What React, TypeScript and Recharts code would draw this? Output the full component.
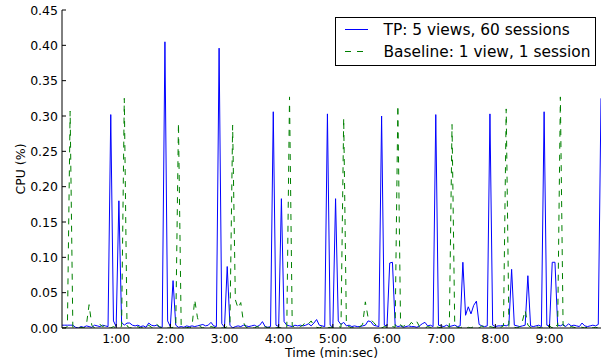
import React from 'react';
import { LineChart, Line, XAxis, YAxis } from 'recharts';

const STEP_SECONDS = 3;

const TP_VALUES = [
  0.004, 0.004, 0.004, 0.004, 0.004, 0.001, 0.000, 0.002, 0.001, 0.003,
  0.002, 0.001, 0.004, 0.003, 0.002, 0.004, 0.003, 0.002, 0.302, 0.010,
  0.002, 0.180, 0.008, 0.004, 0.007, 0.007, 0.004, 0.003, 0.004, 0.002,
  0.003, 0.001, 0.007, 0.004, 0.003, 0.004, 0.001, 0.001, 0.405, 0.010,
  0.002, 0.067, 0.004, 0.001, 0.002, 0.001, 0.003, 0.002, 0.003, 0.002,
  0.003, 0.004, 0.005, 0.003, 0.004, 0.008, 0.003, 0.002, 0.396, 0.006,
  0.001, 0.087, 0.004, 0.000, 0.002, 0.003, 0.002, 0.004, 0.003, 0.002,
  0.003, 0.004, 0.002, 0.004, 0.009, 0.002, 0.001, 0.002, 0.306, 0.004,
  0.002, 0.183, 0.009, 0.004, 0.003, 0.002, 0.004, 0.003, 0.004, 0.003,
  0.004, 0.006, 0.003, 0.007, 0.012, 0.004, 0.003, 0.002, 0.303, 0.004,
  0.001, 0.183, 0.010, 0.005, 0.008, 0.003, 0.004, 0.002, 0.003, 0.002,
  0.002, 0.003, 0.004, 0.010, 0.009, 0.004, 0.003, 0.002, 0.300, 0.004,
  0.003, 0.092, 0.093, 0.004, 0.002, 0.003, 0.001, 0.002, 0.003, 0.002,
  0.002, 0.001, 0.003, 0.006, 0.008, 0.003, 0.004, 0.002, 0.302, 0.004,
  0.003, 0.002, 0.004, 0.002, 0.003, 0.004, 0.002, 0.003, 0.093, 0.018,
  0.030, 0.020, 0.032, 0.038, 0.005, 0.003, 0.002, 0.003, 0.303, 0.004,
  0.002, 0.003, 0.003, 0.004, 0.003, 0.005, 0.083, 0.004, 0.003, 0.002,
  0.003, 0.004, 0.074, 0.003, 0.002, 0.003, 0.004, 0.002, 0.306, 0.004,
  0.003, 0.093, 0.093, 0.004, 0.003, 0.005, 0.002, 0.006, 0.003, 0.004,
  0.003, 0.002, 0.007, 0.003, 0.002, 0.003, 0.004, 0.003, 0.005, 0.325,
];

const BASELINE_VALUES = [
  0.000, 0.000, 0.002, 0.307, 0.001, 0.000, 0.000, 0.001, 0.000, 0.004,
  0.033, 0.004, 0.000, 0.001, 0.005, 0.002, 0.004, 0.001, 0.000, 0.002,
  0.000, 0.001, 0.002, 0.325, 0.003, 0.000, 0.001, 0.000, 0.002, 0.000,
  0.001, 0.000, 0.004, 0.001, 0.000, 0.005, 0.002, 0.000, 0.001, 0.000,
  0.000, 0.001, 0.002, 0.290, 0.003, 0.000, 0.001, 0.000, 0.002, 0.040,
  0.015, 0.002, 0.000, 0.001, 0.000, 0.002, 0.001, 0.000, 0.001, 0.000,
  0.000, 0.002, 0.004, 0.287, 0.040, 0.028, 0.036, 0.008, 0.001, 0.000,
  0.001, 0.000, 0.002, 0.001, 0.000, 0.002, 0.000, 0.001, 0.002, 0.000,
  0.001, 0.000, 0.003, 0.001, 0.327, 0.003, 0.001, 0.000, 0.002, 0.004,
  0.009, 0.006, 0.010, 0.003, 0.001, 0.000, 0.002, 0.001, 0.000, 0.001,
  0.001, 0.000, 0.002, 0.001, 0.297, 0.004, 0.002, 0.000, 0.001, 0.000,
  0.002, 0.005, 0.037, 0.015, 0.012, 0.008, 0.004, 0.001, 0.000, 0.002,
  0.001, 0.000, 0.002, 0.001, 0.315, 0.004, 0.002, 0.006, 0.003, 0.008,
  0.004, 0.009, 0.002, 0.001, 0.000, 0.002, 0.001, 0.000, 0.002, 0.001,
  0.000, 0.002, 0.004, 0.001, 0.288, 0.003, 0.001, 0.000, 0.002, 0.000,
  0.001, 0.000, 0.002, 0.001, 0.000, 0.003, 0.001, 0.000, 0.002, 0.001,
  0.000, 0.002, 0.001, 0.003, 0.310, 0.002, 0.000, 0.001, 0.000, 0.002,
  0.010, 0.025, 0.004, 0.001, 0.000, 0.002, 0.001, 0.000, 0.002, 0.001,
  0.003, 0.000, 0.006, 0.002, 0.327, 0.004, 0.001, 0.000, 0.002, 0.001,
  0.000, 0.002, 0.001, 0.000, 0.001, 0.003, 0.000, 0.001, 0.000, 0.002,
];

const X_TICKS = [60, 120, 180, 240, 300, 360, 420, 480, 540];
const Y_TICKS = [0, 0.05, 0.1, 0.15, 0.2, 0.25, 0.3, 0.35, 0.4, 0.45];
const X_DOMAIN_END = 597;
const SERIES_NAMES = ['TP: 5 views, 60 sessions', 'Baseline: 1 view, 1 session'];
const X_LABEL = 'Time (min:sec)';
const Y_LABEL = 'CPU (%)';

const data = TP_VALUES.map((v, i) => ({
  t: i * STEP_SECONDS,
  tp: v,
  base: BASELINE_VALUES[i],
}));

const FONT = '"DejaVu Sans", "Bitstream Vera Sans", sans-serif';
const BLUE = '#0000ff';
const GREEN = '#008000';

const fmtTime = (s: number) => `${Math.floor(s / 60)}:${String(Math.round(s % 60)).padStart(2, '0')}`;

const LeftTick = (props: any) => {
  const { x, y, payload } = props;
  return (
    <g>
      <line x1={x} x2={x + 4} y1={y} y2={y} stroke="#000" strokeWidth={1} />
      <text x={x - 4} y={y} dy={4.5} textAnchor="end" fontSize={12.5} fontFamily={FONT} fill="#000">
        {Number(payload.value).toFixed(2)}
      </text>
    </g>
  );
};

const RightTick = (props: any) => {
  const { x, y } = props;
  return <line x1={x} x2={x - 4} y1={y} y2={y} stroke="#000" strokeWidth={1} />;
};

const BottomTick = (props: any) => {
  const { x, y, payload } = props;
  return (
    <g>
      <line x1={x} x2={x} y1={y} y2={y - 4} stroke="#000" strokeWidth={1} />
      <text x={x} y={y} dy={15} textAnchor="middle" fontSize={12.5} fontFamily={FONT} fill="#000">
        {fmtTime(Number(payload.value))}
      </text>
    </g>
  );
};

const TopTick = (props: any) => {
  const { x, y } = props;
  return <line x1={x} x2={x} y1={y} y2={y + 4} stroke="#000" strokeWidth={1} />;
};

const YLabel = () => (
  <text
    x={24.5}
    y={169}
    transform="rotate(-90, 24.5, 169)"
    textAnchor="middle"
    fontSize={12.5}
    fontFamily={FONT}
    fill="#000"
  >
    {Y_LABEL}
  </text>
);

const XLabel = () => (
  <text x={331.5} y={357} textAnchor="middle" fontSize={12.5} fontFamily={FONT} fill="#000">
    {X_LABEL}
  </text>
);

const LegendBox = () => (
  <svg
    width={262}
    height={50}
    style={{ position: 'absolute', left: 335, top: 17, overflow: 'visible' }}
  >
    <rect x={0.5} y={0.5} width={260} height={48} fill="#fff" stroke="#000" strokeWidth={1} />
    <line x1={10} x2={33} y1={12.5} y2={12.5} stroke={BLUE} strokeWidth={1} />
    <text x={48.5} y={18} fontSize={15.4} fontFamily={FONT} fill="#000">
      {SERIES_NAMES[0]}
    </text>
    <line x1={10} x2={33} y1={34.5} y2={34.5} stroke={GREEN} strokeWidth={1} strokeDasharray="6 6" />
    <text x={48.5} y={40} fontSize={15.4} fontFamily={FONT} fill="#000">
      {SERIES_NAMES[1]}
    </text>
  </svg>
);

export default function App() {
  return (
    <div style={{ position: 'absolute', left: 0, top: 0, width: 603, height: 362, background: '#fff' }}>
      <LineChart
        width={603}
        height={362}
        data={data}
        margin={{ top: 10, right: 2, bottom: 0, left: 0 }}
      >
        <XAxis
          dataKey="t"
          type="number"
          domain={[0, X_DOMAIN_END]}
          ticks={X_TICKS}
          allowDataOverflow
          height={34}
          tickSize={0}
          tickMargin={0}
          tickLine={false}
          axisLine={{ stroke: '#000', strokeWidth: 1 }}
          tick={<BottomTick />}
          interval={0}
          label={<XLabel />}
        />
        <XAxis
          xAxisId="top"
          orientation="top"
          type="number"
          domain={[0, X_DOMAIN_END]}
          ticks={X_TICKS}
          allowDataOverflow
          height={0}
          tickSize={0}
          tickMargin={0}
          tickLine={false}
          axisLine={{ stroke: '#000', strokeWidth: 1 }}
          tick={<TopTick />}
          interval={0}
        />
        <YAxis
          type="number"
          domain={[0, 0.45]}
          ticks={Y_TICKS}
          allowDataOverflow
          width={62}
          tickSize={0}
          tickMargin={0}
          tickLine={false}
          axisLine={{ stroke: '#000', strokeWidth: 1 }}
          tick={<LeftTick />}
          interval={0}
          label={<YLabel />}
        />
        <YAxis
          yAxisId="right"
          orientation="right"
          type="number"
          domain={[0, 0.45]}
          ticks={Y_TICKS}
          allowDataOverflow
          width={0}
          tickSize={0}
          tickMargin={0}
          tickLine={false}
          axisLine={{ stroke: '#000', strokeWidth: 1 }}
          tick={<RightTick />}
          interval={0}
        />
        <Line
          type="linear"
          dataKey="tp"
          name={SERIES_NAMES[0]}
          stroke={BLUE}
          strokeWidth={1}
          dot={false}
          activeDot={false}
          isAnimationActive={false}
        />
        <Line
          type="linear"
          dataKey="base"
          name={SERIES_NAMES[1]}
          stroke={GREEN}
          strokeWidth={1}
          strokeDasharray="6 6"
          dot={false}
          activeDot={false}
          isAnimationActive={false}
        />
      </LineChart>
      <LegendBox />
    </div>
  );
}
